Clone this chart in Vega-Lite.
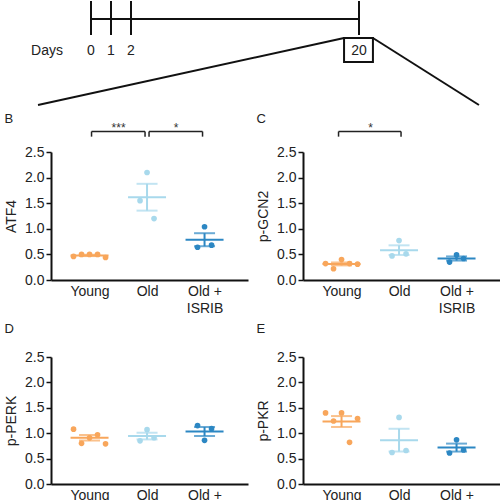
{
  "$schema": "https://vega.github.io/schema/vega-lite/v6.json",
  "padding": {"left": 4, "top": 0, "right": 0, "bottom": 0},
  "bounds": "flush",
  "columns": 2,
  "spacing": {"row": 77, "column": 55},
  "config": {
    "font": "Liberation Sans",
    "view": {"stroke": null},
    "axis": {"grid": false, "domainColor": "#111", "domainWidth": 2, "tickColor": "#111", "labelColor": "#222", "titleColor": "#222", "labelFont": "Liberation Sans", "titleFont": "Liberation Sans", "labelFontSize": 14, "titleFontSize": 14, "titleFontWeight": "normal"},
    "axisX": {"ticks": false, "labelPadding": 4, "labelAngle": 0, "labelLineHeight": 17},
    "axisY": {"tickSize": 5, "tickWidth": 1.5, "labelPadding": 2, "titlePadding": 6},
    "title": {"font": "Liberation Sans", "fontSize": 13, "fontWeight": "normal", "color": "#222", "anchor": "start", "frame": "bounds"}
  },
  "datasets": {
    "timeline": [{"day": 0}, {"day": 1}, {"day": 2}, {"day": 20}],
    "daysLabel": [{"label": "Days"}],
    "measurements": [
      {"panel": "ATF4", "group": "Young", "rep": 1, "value": 0.46},
      {"panel": "ATF4", "group": "Young", "rep": 2, "value": 0.5},
      {"panel": "ATF4", "group": "Young", "rep": 3, "value": 0.5},
      {"panel": "ATF4", "group": "Young", "rep": 4, "value": 0.5},
      {"panel": "ATF4", "group": "Young", "rep": 5, "value": 0.44},
      {"panel": "ATF4", "group": "Old", "rep": 1, "value": 1.55},
      {"panel": "ATF4", "group": "Old", "rep": 2, "value": 2.1},
      {"panel": "ATF4", "group": "Old", "rep": 3, "value": 1.2},
      {"panel": "ATF4", "group": "Old + ISRIB", "rep": 1, "value": 0.64},
      {"panel": "ATF4", "group": "Old + ISRIB", "rep": 2, "value": 1.04},
      {"panel": "ATF4", "group": "Old + ISRIB", "rep": 3, "value": 0.68},
      {"panel": "p-GCN2", "group": "Young", "rep": 1, "value": 0.32},
      {"panel": "p-GCN2", "group": "Young", "rep": 2, "value": 0.22},
      {"panel": "p-GCN2", "group": "Young", "rep": 3, "value": 0.4},
      {"panel": "p-GCN2", "group": "Young", "rep": 4, "value": 0.32},
      {"panel": "p-GCN2", "group": "Young", "rep": 5, "value": 0.31},
      {"panel": "p-GCN2", "group": "Old", "rep": 1, "value": 0.47},
      {"panel": "p-GCN2", "group": "Old", "rep": 2, "value": 0.77},
      {"panel": "p-GCN2", "group": "Old", "rep": 3, "value": 0.51},
      {"panel": "p-GCN2", "group": "Old + ISRIB", "rep": 1, "value": 0.35},
      {"panel": "p-GCN2", "group": "Old + ISRIB", "rep": 2, "value": 0.49},
      {"panel": "p-GCN2", "group": "Old + ISRIB", "rep": 3, "value": 0.42},
      {"panel": "p-PERK", "group": "Young", "rep": 1, "value": 1.08},
      {"panel": "p-PERK", "group": "Young", "rep": 2, "value": 0.8},
      {"panel": "p-PERK", "group": "Young", "rep": 3, "value": 0.91},
      {"panel": "p-PERK", "group": "Young", "rep": 4, "value": 0.97},
      {"panel": "p-PERK", "group": "Young", "rep": 5, "value": 0.79},
      {"panel": "p-PERK", "group": "Old", "rep": 1, "value": 0.85},
      {"panel": "p-PERK", "group": "Old", "rep": 2, "value": 1.07},
      {"panel": "p-PERK", "group": "Old", "rep": 3, "value": 0.91},
      {"panel": "p-PERK", "group": "Old + ISRIB", "rep": 1, "value": 1.15},
      {"panel": "p-PERK", "group": "Old + ISRIB", "rep": 2, "value": 0.86},
      {"panel": "p-PERK", "group": "Old + ISRIB", "rep": 3, "value": 1.09},
      {"panel": "p-PKR", "group": "Young", "rep": 1, "value": 1.4},
      {"panel": "p-PKR", "group": "Young", "rep": 2, "value": 1.24},
      {"panel": "p-PKR", "group": "Young", "rep": 3, "value": 1.4},
      {"panel": "p-PKR", "group": "Young", "rep": 4, "value": 0.82},
      {"panel": "p-PKR", "group": "Young", "rep": 5, "value": 1.29},
      {"panel": "p-PKR", "group": "Old", "rep": 1, "value": 0.62},
      {"panel": "p-PKR", "group": "Old", "rep": 2, "value": 1.31},
      {"panel": "p-PKR", "group": "Old", "rep": 3, "value": 0.66},
      {"panel": "p-PKR", "group": "Old + ISRIB", "rep": 1, "value": 0.61},
      {"panel": "p-PKR", "group": "Old + ISRIB", "rep": 2, "value": 0.87},
      {"panel": "p-PKR", "group": "Old + ISRIB", "rep": 3, "value": 0.67}
    ],
    "comparisons": [
      {"panel": "ATF4", "g1": "Young", "g2": "Old", "label": "***"},
      {"panel": "ATF4", "g1": "Old", "g2": "Old + ISRIB", "label": "*"},
      {"panel": "p-GCN2", "g1": "Young", "g2": "Old", "label": "*"}
    ]
  },
  "concat": [
    {
      "width": 197,
      "height": 75,
      "data": {"name": "timeline"},
      "layer": [
        {
          "mark": {"type": "rule", "strokeWidth": 2, "color": "#111"},
          "encoding": {
            "x": {"field": "day", "type": "quantitative", "axis": null, "scale": {"domain": [0, 2, 20], "range": [40, 80, 308], "nice": false, "zero": false}},
            "y": {"datum": 1, "type": "quantitative", "axis": null, "scale": {"domain": [0, 75], "reverse": true, "nice": false, "zero": false}},
            "y2": {"datum": 35}
          }
        },
        {
          "transform": [{"filter": "datum.day == 20"}],
          "mark": {"type": "rule", "strokeWidth": 2, "color": "#111"},
          "encoding": {
            "x": {"datum": 0, "type": "quantitative", "axis": null},
            "x2": {"datum": 20},
            "y": {"datum": 19, "type": "quantitative", "axis": null}
          }
        },
        {
          "mark": {"type": "text", "fontSize": 14, "color": "#222", "baseline": "middle", "align": "center"},
          "encoding": {
            "x": {"field": "day", "type": "quantitative", "axis": null},
            "y": {"datum": 51, "type": "quantitative", "axis": null},
            "text": {"field": "day", "type": "nominal"}
          }
        },
        {
          "data": {"name": "daysLabel"},
          "mark": {"type": "text", "fontSize": 14, "color": "#222", "baseline": "middle", "align": "center"},
          "encoding": {
            "x": {"datum": -2.2, "type": "quantitative", "axis": null},
            "y": {"datum": 51, "type": "quantitative", "axis": null},
            "text": {"field": "label", "type": "nominal"}
          }
        },
        {
          "transform": [{"filter": "datum.day == 20"}],
          "mark": {"type": "rect", "fill": null, "fillOpacity": 0, "stroke": "#111", "strokeWidth": 2},
          "encoding": {
            "x": {"datum": 18.82, "type": "quantitative", "axis": null},
            "x2": {"datum": 21.1},
            "y": {"datum": 38, "type": "quantitative", "axis": null},
            "y2": {"datum": 62}
          }
        },
        {
          "transform": [{"filter": "datum.day == 20"}],
          "mark": {"type": "rule", "strokeWidth": 2, "color": "#111"},
          "encoding": {
            "x": {"datum": 18.82, "type": "quantitative", "axis": null},
            "x2": {"datum": -2.65},
            "y": {"datum": 38, "type": "quantitative", "axis": null},
            "y2": {"datum": 105}
          }
        },
        {
          "transform": [{"filter": "datum.day == 20"}],
          "mark": {"type": "rule", "strokeWidth": 2, "color": "#111"},
          "encoding": {
            "x": {"datum": 21.1, "type": "quantitative", "axis": null},
            "x2": {"datum": 29.47},
            "y": {"datum": 38, "type": "quantitative", "axis": null},
            "y2": {"datum": 105}
          }
        }
      ]
    },
    {
      "width": 197,
      "height": 75,
      "data": {"values": []},
      "mark": "point"
    },
    {
      "width": 197, "height": 128,
      "title": {"text": "B", "offset": -4},
      "layer": [
        {
          "data": {"name": "measurements"},
          "transform": [{"filter": "datum.panel == 'ATF4' && datum.group == 'Young'"}],
          "mark": {"type": "circle", "size": 32, "opacity": 1},
          "encoding": {
            "x": {"field": "group", "type": "nominal", "scale": {"type": "point", "domain": ["Young", "Old", "Old + ISRIB"], "padding": 0.713, "align": 0.47}, "axis": {"title": null, "labelExpr": "datum.value == 'Old + ISRIB' ? ['Old +', 'ISRIB'] : datum.value"}},
            "y": {"field": "value", "type": "quantitative", "scale": {"domain": [0, 2.5], "nice": false, "zero": false}, "axis": {"title": "ATF4", "values": [0, 0.5, 1, 1.5, 2, 2.5], "format": ".1f"}},
            "xOffset": {"field": "rep", "type": "nominal", "scale": {"type": "point", "domain": [1, 2, 3, 4, 5], "range": [-16, 16], "padding": 0}},
            "color": {"field": "group", "type": "nominal", "scale": {"domain": ["Young", "Old", "Old + ISRIB"], "range": ["#F8A65B", "#A8D9EC", "#2C87C3"]}, "legend": null}
          }
        },
        {
          "layer": [
            {
              "data": {"name": "measurements"},
              "transform": [{"filter": "datum.panel == 'ATF4' && datum.group != 'Young'"}],
              "mark": {"type": "circle", "size": 32, "opacity": 1},
              "encoding": {
                "x": {"field": "group", "type": "nominal", "axis": {"title": null, "labelExpr": "datum.value == 'Old + ISRIB' ? ['Old +', 'ISRIB'] : datum.value"}},
                "y": {"field": "value", "type": "quantitative", "axis": {"title": "ATF4", "values": [0, 0.5, 1, 1.5, 2, 2.5], "format": ".1f"}},
                "xOffset": {"field": "rep", "type": "nominal", "scale": {"type": "point", "domain": [1, 2, 3], "range": [-7, 7], "padding": 0}},
                "color": {"field": "group", "type": "nominal", "legend": null}
              }
            }
          ]
        },
        {
          "data": {"name": "measurements"},
          "transform": [{"filter": "datum.panel == 'ATF4'"}],
          "mark": {"type": "tick", "size": 38, "thickness": 2, "opacity": 1},
          "encoding": {
            "x": {"field": "group", "type": "nominal", "axis": {"title": null, "labelExpr": "datum.value == 'Old + ISRIB' ? ['Old +', 'ISRIB'] : datum.value"}},
            "y": {"aggregate": "mean", "field": "value", "type": "quantitative", "axis": {"title": "ATF4", "values": [0, 0.5, 1, 1.5, 2, 2.5], "format": ".1f"}},
            "color": {"field": "group", "type": "nominal", "legend": null}
          }
        },
        {
          "data": {"name": "measurements"},
          "transform": [{"filter": "datum.panel == 'ATF4'"}],
          "mark": {"type": "errorbar", "extent": "stderr", "ticks": {"size": 21}, "thickness": 2},
          "encoding": {
            "x": {"field": "group", "type": "nominal", "axis": {"title": null, "labelExpr": "datum.value == 'Old + ISRIB' ? ['Old +', 'ISRIB'] : datum.value"}},
            "y": {"field": "value", "type": "quantitative", "axis": {"title": "ATF4", "values": [0, 0.5, 1, 1.5, 2, 2.5], "format": ".1f"}},
            "color": {"field": "group", "type": "nominal", "legend": null}
          }
        },
        {
          "data": {"name": "comparisons"},
          "transform": [{"filter": "datum.panel == 'ATF4'"}],
          "layer": [
            {"mark": {"type": "rule", "strokeWidth": 1.5, "color": "#222", "xOffset": 2, "x2Offset": -2}, "encoding": {"x": {"field": "g1", "type": "nominal", "axis": {"title": null, "labelExpr": "datum.value == 'Old + ISRIB' ? ['Old +', 'ISRIB'] : datum.value"}}, "x2": {"field": "g2"}, "y": {"datum": 2.9, "type": "quantitative", "axis": {"title": "ATF4", "values": [0, 0.5, 1, 1.5, 2, 2.5], "format": ".1f"}}}},
            {"mark": {"type": "rule", "strokeWidth": 1.5, "color": "#222", "xOffset": 2}, "encoding": {"x": {"field": "g1", "type": "nominal", "axis": {"title": null, "labelExpr": "datum.value == 'Old + ISRIB' ? ['Old +', 'ISRIB'] : datum.value"}}, "y": {"datum": 2.9, "type": "quantitative", "axis": {"title": "ATF4", "values": [0, 0.5, 1, 1.5, 2, 2.5], "format": ".1f"}}, "y2": {"datum": 2.8}}},
            {"mark": {"type": "rule", "strokeWidth": 1.5, "color": "#222", "xOffset": -2}, "encoding": {"x": {"field": "g2", "type": "nominal", "axis": {"title": null, "labelExpr": "datum.value == 'Old + ISRIB' ? ['Old +', 'ISRIB'] : datum.value"}}, "y": {"datum": 2.9, "type": "quantitative", "axis": {"title": "ATF4", "values": [0, 0.5, 1, 1.5, 2, 2.5], "format": ".1f"}}, "y2": {"datum": 2.8}}},
            {"mark": {"type": "text", "dx": 29, "baseline": "alphabetic", "align": "center", "fontSize": 12, "color": "#333"}, "encoding": {"x": {"field": "g1", "type": "nominal", "axis": {"title": null, "labelExpr": "datum.value == 'Old + ISRIB' ? ['Old +', 'ISRIB'] : datum.value"}}, "y": {"datum": 2.9, "type": "quantitative", "axis": {"title": "ATF4", "values": [0, 0.5, 1, 1.5, 2, 2.5], "format": ".1f"}}, "text": {"field": "label"}}}
          ]
        }
      ],
      "resolve": {"scale": {"xOffset": "independent"}}
    },
    {
      "width": 197, "height": 128,
      "title": {"text": "C", "offset": -4},
      "layer": [
        {
          "data": {"name": "measurements"},
          "transform": [{"filter": "datum.panel == 'p-GCN2' && datum.group == 'Young'"}],
          "mark": {"type": "circle", "size": 32, "opacity": 1},
          "encoding": {
            "x": {"field": "group", "type": "nominal", "scale": {"type": "point", "domain": ["Young", "Old", "Old + ISRIB"], "padding": 0.713, "align": 0.47}, "axis": {"title": null, "labelExpr": "datum.value == 'Old + ISRIB' ? ['Old +', 'ISRIB'] : datum.value"}},
            "y": {"field": "value", "type": "quantitative", "scale": {"domain": [0, 2.5], "nice": false, "zero": false}, "axis": {"title": "p-GCN2", "values": [0, 0.5, 1, 1.5, 2, 2.5], "format": ".1f"}},
            "xOffset": {"field": "rep", "type": "nominal", "scale": {"type": "point", "domain": [1, 2, 3, 4, 5], "range": [-16, 16], "padding": 0}},
            "color": {"field": "group", "type": "nominal", "scale": {"domain": ["Young", "Old", "Old + ISRIB"], "range": ["#F8A65B", "#A8D9EC", "#2C87C3"]}, "legend": null}
          }
        },
        {
          "layer": [
            {
              "data": {"name": "measurements"},
              "transform": [{"filter": "datum.panel == 'p-GCN2' && datum.group != 'Young'"}],
              "mark": {"type": "circle", "size": 32, "opacity": 1},
              "encoding": {
                "x": {"field": "group", "type": "nominal", "axis": {"title": null, "labelExpr": "datum.value == 'Old + ISRIB' ? ['Old +', 'ISRIB'] : datum.value"}},
                "y": {"field": "value", "type": "quantitative", "axis": {"title": "p-GCN2", "values": [0, 0.5, 1, 1.5, 2, 2.5], "format": ".1f"}},
                "xOffset": {"field": "rep", "type": "nominal", "scale": {"type": "point", "domain": [1, 2, 3], "range": [-7, 7], "padding": 0}},
                "color": {"field": "group", "type": "nominal", "legend": null}
              }
            }
          ]
        },
        {
          "data": {"name": "measurements"},
          "transform": [{"filter": "datum.panel == 'p-GCN2'"}],
          "mark": {"type": "tick", "size": 38, "thickness": 2, "opacity": 1},
          "encoding": {
            "x": {"field": "group", "type": "nominal", "axis": {"title": null, "labelExpr": "datum.value == 'Old + ISRIB' ? ['Old +', 'ISRIB'] : datum.value"}},
            "y": {"aggregate": "mean", "field": "value", "type": "quantitative", "axis": {"title": "p-GCN2", "values": [0, 0.5, 1, 1.5, 2, 2.5], "format": ".1f"}},
            "color": {"field": "group", "type": "nominal", "legend": null}
          }
        },
        {
          "data": {"name": "measurements"},
          "transform": [{"filter": "datum.panel == 'p-GCN2'"}],
          "mark": {"type": "errorbar", "extent": "stderr", "ticks": {"size": 21}, "thickness": 2},
          "encoding": {
            "x": {"field": "group", "type": "nominal", "axis": {"title": null, "labelExpr": "datum.value == 'Old + ISRIB' ? ['Old +', 'ISRIB'] : datum.value"}},
            "y": {"field": "value", "type": "quantitative", "axis": {"title": "p-GCN2", "values": [0, 0.5, 1, 1.5, 2, 2.5], "format": ".1f"}},
            "color": {"field": "group", "type": "nominal", "legend": null}
          }
        },
        {
          "data": {"name": "comparisons"},
          "transform": [{"filter": "datum.panel == 'p-GCN2'"}],
          "layer": [
            {"mark": {"type": "rule", "strokeWidth": 1.5, "color": "#222", "xOffset": -3, "x2Offset": 2}, "encoding": {"x": {"field": "g1", "type": "nominal", "axis": {"title": null, "labelExpr": "datum.value == 'Old + ISRIB' ? ['Old +', 'ISRIB'] : datum.value"}}, "x2": {"field": "g2"}, "y": {"datum": 2.9, "type": "quantitative", "axis": {"title": "p-GCN2", "values": [0, 0.5, 1, 1.5, 2, 2.5], "format": ".1f"}}}},
            {"mark": {"type": "rule", "strokeWidth": 1.5, "color": "#222", "xOffset": -3}, "encoding": {"x": {"field": "g1", "type": "nominal", "axis": {"title": null, "labelExpr": "datum.value == 'Old + ISRIB' ? ['Old +', 'ISRIB'] : datum.value"}}, "y": {"datum": 2.9, "type": "quantitative", "axis": {"title": "p-GCN2", "values": [0, 0.5, 1, 1.5, 2, 2.5], "format": ".1f"}}, "y2": {"datum": 2.8}}},
            {"mark": {"type": "rule", "strokeWidth": 1.5, "color": "#222", "xOffset": 2}, "encoding": {"x": {"field": "g2", "type": "nominal", "axis": {"title": null, "labelExpr": "datum.value == 'Old + ISRIB' ? ['Old +', 'ISRIB'] : datum.value"}}, "y": {"datum": 2.9, "type": "quantitative", "axis": {"title": "p-GCN2", "values": [0, 0.5, 1, 1.5, 2, 2.5], "format": ".1f"}}, "y2": {"datum": 2.8}}},
            {"mark": {"type": "text", "dx": 29, "baseline": "alphabetic", "align": "center", "fontSize": 12, "color": "#333"}, "encoding": {"x": {"field": "g1", "type": "nominal", "axis": {"title": null, "labelExpr": "datum.value == 'Old + ISRIB' ? ['Old +', 'ISRIB'] : datum.value"}}, "y": {"datum": 2.9, "type": "quantitative", "axis": {"title": "p-GCN2", "values": [0, 0.5, 1, 1.5, 2, 2.5], "format": ".1f"}}, "text": {"field": "label"}}}
          ]
        }
      ],
      "resolve": {"scale": {"xOffset": "independent"}}
    },
    {
      "width": 197, "height": 127,
      "title": {"text": "D", "offset": 14},
      "layer": [
        {
          "data": {"name": "measurements"},
          "transform": [{"filter": "datum.panel == 'p-PERK' && datum.group == 'Young'"}],
          "mark": {"type": "circle", "size": 32, "opacity": 1},
          "encoding": {
            "x": {"field": "group", "type": "nominal", "scale": {"type": "point", "domain": ["Young", "Old", "Old + ISRIB"], "padding": 0.713, "align": 0.47}, "axis": {"title": null, "labelExpr": "datum.value == 'Old + ISRIB' ? ['Old +', 'ISRIB'] : datum.value"}},
            "y": {"field": "value", "type": "quantitative", "scale": {"domain": [0, 2.5], "nice": false, "zero": false}, "axis": {"title": "p-PERK", "values": [0, 0.5, 1, 1.5, 2, 2.5], "format": ".1f"}},
            "xOffset": {"field": "rep", "type": "nominal", "scale": {"type": "point", "domain": [1, 2, 3, 4, 5], "range": [-16, 16], "padding": 0}},
            "color": {"field": "group", "type": "nominal", "scale": {"domain": ["Young", "Old", "Old + ISRIB"], "range": ["#F8A65B", "#A8D9EC", "#2C87C3"]}, "legend": null}
          }
        },
        {
          "layer": [
            {
              "data": {"name": "measurements"},
              "transform": [{"filter": "datum.panel == 'p-PERK' && datum.group != 'Young'"}],
              "mark": {"type": "circle", "size": 32, "opacity": 1},
              "encoding": {
                "x": {"field": "group", "type": "nominal", "axis": {"title": null, "labelExpr": "datum.value == 'Old + ISRIB' ? ['Old +', 'ISRIB'] : datum.value"}},
                "y": {"field": "value", "type": "quantitative", "axis": {"title": "p-PERK", "values": [0, 0.5, 1, 1.5, 2, 2.5], "format": ".1f"}},
                "xOffset": {"field": "rep", "type": "nominal", "scale": {"type": "point", "domain": [1, 2, 3], "range": [-7, 7], "padding": 0}},
                "color": {"field": "group", "type": "nominal", "legend": null}
              }
            }
          ]
        },
        {
          "data": {"name": "measurements"},
          "transform": [{"filter": "datum.panel == 'p-PERK'"}],
          "mark": {"type": "tick", "size": 38, "thickness": 2, "opacity": 1},
          "encoding": {
            "x": {"field": "group", "type": "nominal", "axis": {"title": null, "labelExpr": "datum.value == 'Old + ISRIB' ? ['Old +', 'ISRIB'] : datum.value"}},
            "y": {"aggregate": "mean", "field": "value", "type": "quantitative", "axis": {"title": "p-PERK", "values": [0, 0.5, 1, 1.5, 2, 2.5], "format": ".1f"}},
            "color": {"field": "group", "type": "nominal", "legend": null}
          }
        },
        {
          "data": {"name": "measurements"},
          "transform": [{"filter": "datum.panel == 'p-PERK'"}],
          "mark": {"type": "errorbar", "extent": "stderr", "ticks": {"size": 21}, "thickness": 2},
          "encoding": {
            "x": {"field": "group", "type": "nominal", "axis": {"title": null, "labelExpr": "datum.value == 'Old + ISRIB' ? ['Old +', 'ISRIB'] : datum.value"}},
            "y": {"field": "value", "type": "quantitative", "axis": {"title": "p-PERK", "values": [0, 0.5, 1, 1.5, 2, 2.5], "format": ".1f"}},
            "color": {"field": "group", "type": "nominal", "legend": null}
          }
        }
      ],
      "resolve": {"scale": {"xOffset": "independent"}}
    },
    {
      "width": 197, "height": 127,
      "title": {"text": "E", "offset": 14},
      "layer": [
        {
          "data": {"name": "measurements"},
          "transform": [{"filter": "datum.panel == 'p-PKR' && datum.group == 'Young'"}],
          "mark": {"type": "circle", "size": 32, "opacity": 1},
          "encoding": {
            "x": {"field": "group", "type": "nominal", "scale": {"type": "point", "domain": ["Young", "Old", "Old + ISRIB"], "padding": 0.713, "align": 0.47}, "axis": {"title": null, "labelExpr": "datum.value == 'Old + ISRIB' ? ['Old +', 'ISRIB'] : datum.value"}},
            "y": {"field": "value", "type": "quantitative", "scale": {"domain": [0, 2.5], "nice": false, "zero": false}, "axis": {"title": "p-PKR", "values": [0, 0.5, 1, 1.5, 2, 2.5], "format": ".1f"}},
            "xOffset": {"field": "rep", "type": "nominal", "scale": {"type": "point", "domain": [1, 2, 3, 4, 5], "range": [-16, 16], "padding": 0}},
            "color": {"field": "group", "type": "nominal", "scale": {"domain": ["Young", "Old", "Old + ISRIB"], "range": ["#F8A65B", "#A8D9EC", "#2C87C3"]}, "legend": null}
          }
        },
        {
          "layer": [
            {
              "data": {"name": "measurements"},
              "transform": [{"filter": "datum.panel == 'p-PKR' && datum.group != 'Young'"}],
              "mark": {"type": "circle", "size": 32, "opacity": 1},
              "encoding": {
                "x": {"field": "group", "type": "nominal", "axis": {"title": null, "labelExpr": "datum.value == 'Old + ISRIB' ? ['Old +', 'ISRIB'] : datum.value"}},
                "y": {"field": "value", "type": "quantitative", "axis": {"title": "p-PKR", "values": [0, 0.5, 1, 1.5, 2, 2.5], "format": ".1f"}},
                "xOffset": {"field": "rep", "type": "nominal", "scale": {"type": "point", "domain": [1, 2, 3], "range": [-7, 7], "padding": 0}},
                "color": {"field": "group", "type": "nominal", "legend": null}
              }
            }
          ]
        },
        {
          "data": {"name": "measurements"},
          "transform": [{"filter": "datum.panel == 'p-PKR'"}],
          "mark": {"type": "tick", "size": 38, "thickness": 2, "opacity": 1},
          "encoding": {
            "x": {"field": "group", "type": "nominal", "axis": {"title": null, "labelExpr": "datum.value == 'Old + ISRIB' ? ['Old +', 'ISRIB'] : datum.value"}},
            "y": {"aggregate": "mean", "field": "value", "type": "quantitative", "axis": {"title": "p-PKR", "values": [0, 0.5, 1, 1.5, 2, 2.5], "format": ".1f"}},
            "color": {"field": "group", "type": "nominal", "legend": null}
          }
        },
        {
          "data": {"name": "measurements"},
          "transform": [{"filter": "datum.panel == 'p-PKR'"}],
          "mark": {"type": "errorbar", "extent": "stderr", "ticks": {"size": 21}, "thickness": 2},
          "encoding": {
            "x": {"field": "group", "type": "nominal", "axis": {"title": null, "labelExpr": "datum.value == 'Old + ISRIB' ? ['Old +', 'ISRIB'] : datum.value"}},
            "y": {"field": "value", "type": "quantitative", "axis": {"title": "p-PKR", "values": [0, 0.5, 1, 1.5, 2, 2.5], "format": ".1f"}},
            "color": {"field": "group", "type": "nominal", "legend": null}
          }
        }
      ],
      "resolve": {"scale": {"xOffset": "independent"}}
    }
  ]
}
